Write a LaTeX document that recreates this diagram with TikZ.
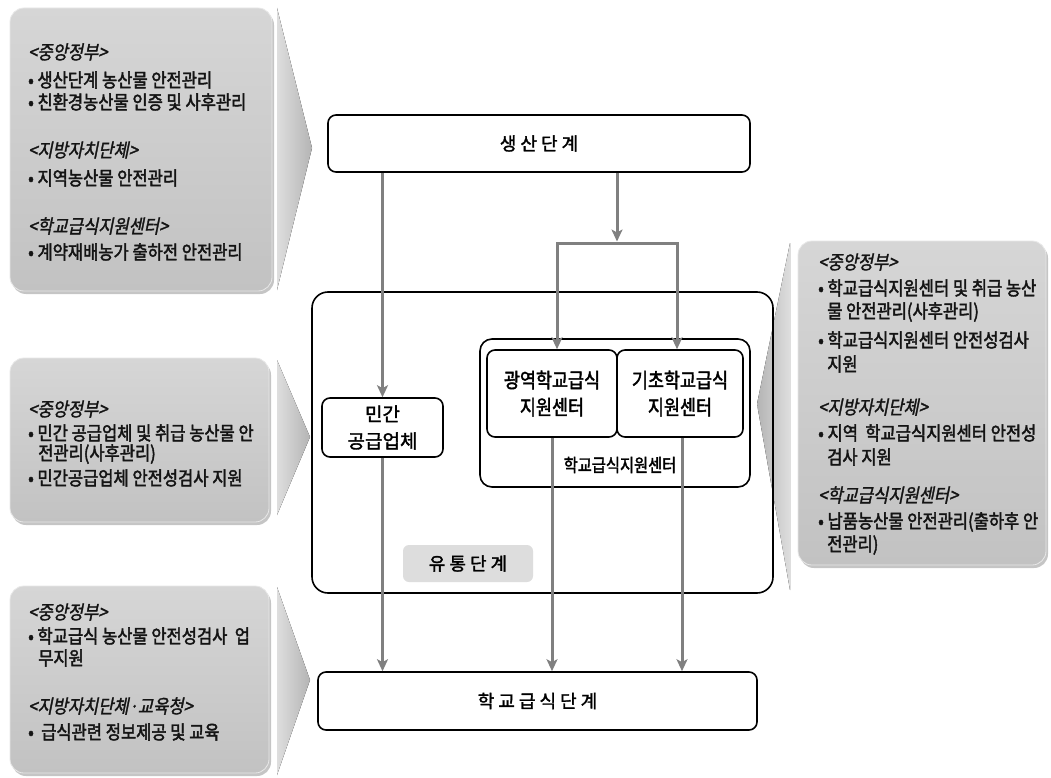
\documentclass[tikz,border=0pt]{standalone}
\usepackage{fontspec}
\newfontfamily\kr[FakeStretch=0.87,FakeBold=2.2]{Noto Sans CJK KR}
\newfontfamily\krit[FakeStretch=0.87,FakeSlant=0.2,FakeBold=1.6]{Noto Sans CJK KR}
\newfontfamily\krbox[FakeBold=1.8,WordSpace=2.0]{Noto Sans CJK KR}
\newfontfamily\krc[FakeStretch=0.85,FakeBold=2]{Noto Sans CJK KR}
\newfontfamily\krw[FakeBold=1.8]{Noto Sans CJK KR}
\usetikzlibrary{arrows.meta,shadows}
\definecolor{pA}{RGB}{214,214,214}
\definecolor{pB}{RGB}{194,194,194}
\definecolor{pE}{RGB}{232,232,232}
\definecolor{cA}{RGB}{222,222,222}
\definecolor{cB}{RGB}{180,180,180}
\definecolor{arrg}{RGB}{128,128,128}
\definecolor{lblg}{RGB}{221,221,221}
\begin{document}
\begin{tikzpicture}[x=1pt,y=-1pt,
  panel/.style={rounded corners=14pt, top color=pA, bottom color=pB, draw=pE, line width=0.8pt,
    drop shadow={shadow xshift=2pt,shadow yshift=-3pt,opacity=0.45}},
  chevL/.style={left color=cA, right color=cB},
  chevR/.style={left color=cB, right color=cA},
  ptxt/.style={anchor=west, inner sep=0pt, text=black!92, font=\kr\fontsize{19}{22}\selectfont},
  phead/.style={ptxt, font=\krit\fontsize{19}{22}\selectfont},
  stagebox/.style={draw=black, line width=1.6pt, rounded corners=8pt, fill=white,
    font=\krbox\fontsize{18}{20}\selectfont, inner sep=0pt},
  unitbox/.style={draw=black, line width=1.6pt, rounded corners=8pt, fill=white,
    inner sep=0pt, align=center},
  arr/.style={draw=arrg, line width=3pt, -{Stealth[length=12pt,width=11pt,inset=3pt]}},
]
\useasboundingbox (0,0) rectangle (1051,778);
\fill[white] (0,0) rectangle (1051,778);

% chevrons
\fill[chevL] (277,8) -- (312,148) -- (277,290) -- cycle;
\fill[chevL] (277,360) -- (310,437) -- (277,515) -- cycle;
\fill[chevL] (277,587) -- (310,680) -- (277,775) -- cycle;
\fill[chevR] (790,243) -- (757,404) -- (790,590) -- cycle;

% panels
\path[panel] (10,8) rectangle (272,291);
\path[panel] (10,358) rectangle (269,522);
\path[panel] (10,586) rectangle (269,773);
\path[panel] (798,241) rectangle (1046,565);

% panel texts: top-left
\node[phead] (h11) at (28,52) {<중앙정부>};
\node[ptxt] (t11) at (28,80) {• 생산단계 농산물 안전관리};
\node[ptxt] (t12) at (28,102) {• 친환경농산물 인증 및 사후관리};
\node[phead] (h12) at (28,150) {<지방자치단체>};
\node[ptxt] (t13) at (28,178) {• 지역농산물 안전관리};
\node[phead] (h13) at (28,226) {<학교급식지원센터>};
\node[ptxt] (t14) at (28,252) {• 계약재배농가 출하전 안전관리};

% middle-left
\node[phead] (h21) at (28,409) {<중앙정부>};
\node[ptxt] (t21) at (28,433) {• 민간 공급업체 및 취급 농산물 안};
\node[ptxt] (t22) at (38,454) {전관리(사후관리)};
\node[ptxt] (t23) at (28,478) {• 민간공급업체 안전성검사 지원};

% bottom-left
\node[phead] (h31) at (28,612) {<중앙정부>};
\node[ptxt] (t31) at (28,636) {• 학교급식 농산물 안전성검사\ \ 업};
\node[ptxt] (t32) at (38,658) {무지원};
\node[phead] (h32) at (28,706) {<지방자치단체·교육청>};
\node[ptxt] (t33) at (28,732) {•\ \ 급식관련 정보제공 및 교육};

% right
\node[phead] (h41) at (818,262) {<중앙정부>};
\node[ptxt] (t41) at (818,288) {• 학교급식지원센터 및 취급 농산};
\node[ptxt] (t42) at (827,312) {물 안전관리(사후관리)};
\node[ptxt] (t43) at (818,340) {• 학교급식지원센터 안전성검사};
\node[ptxt] (t44) at (827,364) {지원};
\node[phead] (h42) at (818,407) {<지방자치단체>};
\node[ptxt] (t45) at (818,433) {• 지역\ \ 학교급식지원센터 안전성};
\node[ptxt] (t46) at (827,457) {검사 지원};
\node[phead] (h43) at (818,495) {<학교급식지원센터>};
\node[ptxt] (t47) at (818,522) {• 납품농산물 안전관리(출하후 안};
\node[ptxt] (t48) at (827,545) {전관리)};

% main flow
\node[stagebox, minimum width=422pt, minimum height=57pt] (sp) at (539,143.5) {생 산 단 계};
\node[draw=black, line width=1.6pt, rounded corners=16pt, minimum width=461pt, minimum height=301pt, inner sep=0pt] (yt) at (542.5,442.5) {};
\node[fill=lblg, rounded corners=6pt, minimum width=130pt, minimum height=37pt, inner sep=0pt,
  font=\krbox\fontsize{18}{20}\selectfont] (ytl) at (468,563.5) {유 통 단 계};
\node[draw=black, line width=1.6pt, rounded corners=12pt, minimum width=270pt, minimum height=148pt, inner sep=0pt] (sc) at (615,413) {};
\node[inner sep=0pt, font=\krc\fontsize{18}{20}\selectfont] (scl) at (620,465) {학교급식지원센터};
\node[unitbox, minimum width=130pt, minimum height=87pt, font=\krc\fontsize{20.5}{27}\selectfont] (gw) at (552,393.5) {광역학교급식\\지원센터};
\node[unitbox, minimum width=126pt, minimum height=87pt, font=\krc\fontsize{20.5}{27}\selectfont] (gi) at (680,393.5) {기초학교급식\\지원센터};
\node[unitbox, minimum width=121pt, minimum height=59pt, font=\krw\fontsize{19}{27}\selectfont] (mn) at (382.5,427.5) {민간\\공급업체};
\node[stagebox, minimum width=439pt, minimum height=58pt] (hs) at (537.5,701) {학 교 급 식 단 계};

% connectors
\coordinate (bl) at (557,243);
\coordinate (br) at (677,243);
\coordinate (bm) at (617,241.5);
\draw[arr] (sp.south -| mn.north) -- (mn.north);
\draw[arr] (sp.south -| bm) -- (bm);
\draw[arr, {Stealth[length=12pt,width=11pt,inset=3pt]}-{Stealth[length=12pt,width=11pt,inset=3pt]}, line join=miter]
  (gw.north -| bl) -- (bl) -- (br) -- (gi.north -| br);
\draw[arr] (mn.south) -- (mn.south |- hs.north);
\draw[arr] (gw.south) -- (gw.south |- hs.north);
\draw[arr] ([xshift=2pt]gi.south) -- ([xshift=2pt]gi.south |- hs.north);
\end{tikzpicture}
\end{document}
